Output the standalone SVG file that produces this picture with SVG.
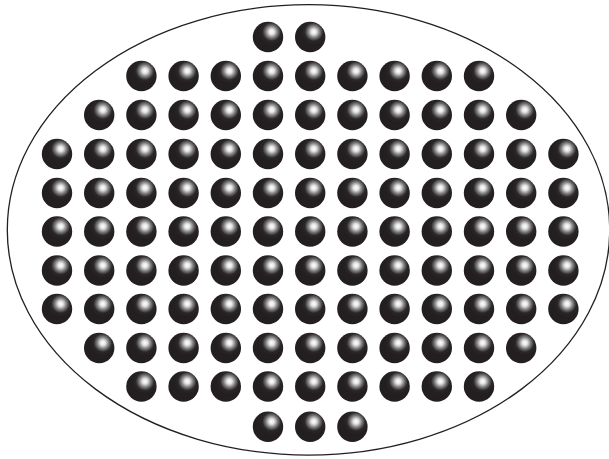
<svg xmlns="http://www.w3.org/2000/svg" xmlns:xlink="http://www.w3.org/1999/xlink" width="609" height="459" viewBox="0 0 609 459">
<defs>
<radialGradient id="g" cx="0.62" cy="0.33" fx="0.62" fy="0.33" r="0.42">
<stop offset="0" stop-color="#ffffff"/>
<stop offset="0.2" stop-color="#e4e4e4"/>
<stop offset="0.47" stop-color="#7a7a7a"/>
<stop offset="0.72" stop-color="#2b2728"/>
<stop offset="1" stop-color="#231f20"/>
</radialGradient>
<circle id="b" cx="0" cy="0" r="15.2" fill="url(#g)"/>
</defs>
<style>.shell{fill:#fff;stroke:#231f20;stroke-width:1.3}</style>
<rect width="609" height="459" fill="#fff"/>
<ellipse id="shell" class="shell" cx="308.5" cy="229.9" rx="301.2" ry="225.2"/>
<g id="row0">
<use href="#b" x="268" y="37"/><use href="#b" x="310.2" y="37"/>
</g>
<g id="row1">
<use href="#b" x="141.4" y="76"/><use href="#b" x="183.6" y="76"/><use href="#b" x="225.8" y="76"/><use href="#b" x="268" y="76"/><use href="#b" x="310.2" y="76"/><use href="#b" x="352.4" y="76"/><use href="#b" x="394.6" y="76"/><use href="#b" x="436.8" y="76"/><use href="#b" x="479" y="76"/>
</g>
<g id="row2">
<use href="#b" x="99.2" y="115"/><use href="#b" x="141.4" y="115"/><use href="#b" x="183.6" y="115"/><use href="#b" x="225.8" y="115"/><use href="#b" x="268" y="115"/><use href="#b" x="310.2" y="115"/><use href="#b" x="352.4" y="115"/><use href="#b" x="394.6" y="115"/><use href="#b" x="436.8" y="115"/><use href="#b" x="479" y="115"/><use href="#b" x="521.2" y="115"/>
</g>
<g id="row3">
<use href="#b" x="57" y="154"/><use href="#b" x="99.2" y="154"/><use href="#b" x="141.4" y="154"/><use href="#b" x="183.6" y="154"/><use href="#b" x="225.8" y="154"/><use href="#b" x="268" y="154"/><use href="#b" x="310.2" y="154"/><use href="#b" x="352.4" y="154"/><use href="#b" x="394.6" y="154"/><use href="#b" x="436.8" y="154"/><use href="#b" x="479" y="154"/><use href="#b" x="521.2" y="154"/><use href="#b" x="563.4" y="154"/>
</g>
<g id="row4">
<use href="#b" x="57" y="193"/><use href="#b" x="99.2" y="193"/><use href="#b" x="141.4" y="193"/><use href="#b" x="183.6" y="193"/><use href="#b" x="225.8" y="193"/><use href="#b" x="268" y="193"/><use href="#b" x="310.2" y="193"/><use href="#b" x="352.4" y="193"/><use href="#b" x="394.6" y="193"/><use href="#b" x="436.8" y="193"/><use href="#b" x="479" y="193"/><use href="#b" x="521.2" y="193"/><use href="#b" x="563.4" y="193"/>
</g>
<g id="row5">
<use href="#b" x="57" y="231.5"/><use href="#b" x="99.2" y="231.5"/><use href="#b" x="141.4" y="231.5"/><use href="#b" x="183.6" y="231.5"/><use href="#b" x="225.8" y="231.5"/><use href="#b" x="268" y="231.5"/><use href="#b" x="310.2" y="231.5"/><use href="#b" x="352.4" y="231.5"/><use href="#b" x="394.6" y="231.5"/><use href="#b" x="436.8" y="231.5"/><use href="#b" x="479" y="231.5"/><use href="#b" x="521.2" y="231.5"/><use href="#b" x="563.4" y="231.5"/>
</g>
<g id="row6">
<use href="#b" x="57" y="270.5"/><use href="#b" x="99.2" y="270.5"/><use href="#b" x="141.4" y="270.5"/><use href="#b" x="183.6" y="270.5"/><use href="#b" x="225.8" y="270.5"/><use href="#b" x="268" y="270.5"/><use href="#b" x="310.2" y="270.5"/><use href="#b" x="352.4" y="270.5"/><use href="#b" x="394.6" y="270.5"/><use href="#b" x="436.8" y="270.5"/><use href="#b" x="479" y="270.5"/><use href="#b" x="521.2" y="270.5"/><use href="#b" x="563.4" y="270.5"/>
</g>
<g id="row7">
<use href="#b" x="57" y="309"/><use href="#b" x="99.2" y="309"/><use href="#b" x="141.4" y="309"/><use href="#b" x="183.6" y="309"/><use href="#b" x="225.8" y="309"/><use href="#b" x="268" y="309"/><use href="#b" x="310.2" y="309"/><use href="#b" x="352.4" y="309"/><use href="#b" x="394.6" y="309"/><use href="#b" x="436.8" y="309"/><use href="#b" x="479" y="309"/><use href="#b" x="521.2" y="309"/><use href="#b" x="563.4" y="309"/>
</g>
<g id="row8">
<use href="#b" x="99.2" y="348"/><use href="#b" x="141.4" y="348"/><use href="#b" x="183.6" y="348"/><use href="#b" x="225.8" y="348"/><use href="#b" x="268" y="348"/><use href="#b" x="310.2" y="348"/><use href="#b" x="352.4" y="348"/><use href="#b" x="394.6" y="348"/><use href="#b" x="436.8" y="348"/><use href="#b" x="479" y="348"/><use href="#b" x="521.2" y="348"/>
</g>
<g id="row9">
<use href="#b" x="141.4" y="386.5"/><use href="#b" x="183.6" y="386.5"/><use href="#b" x="225.8" y="386.5"/><use href="#b" x="268" y="386.5"/><use href="#b" x="310.2" y="386.5"/><use href="#b" x="352.4" y="386.5"/><use href="#b" x="394.6" y="386.5"/><use href="#b" x="436.8" y="386.5"/><use href="#b" x="479" y="386.5"/>
</g>
<g id="row10">
<use href="#b" x="268" y="426.7"/><use href="#b" x="310.2" y="426.7"/><use href="#b" x="352.4" y="426.7"/>
</g>
</svg>
